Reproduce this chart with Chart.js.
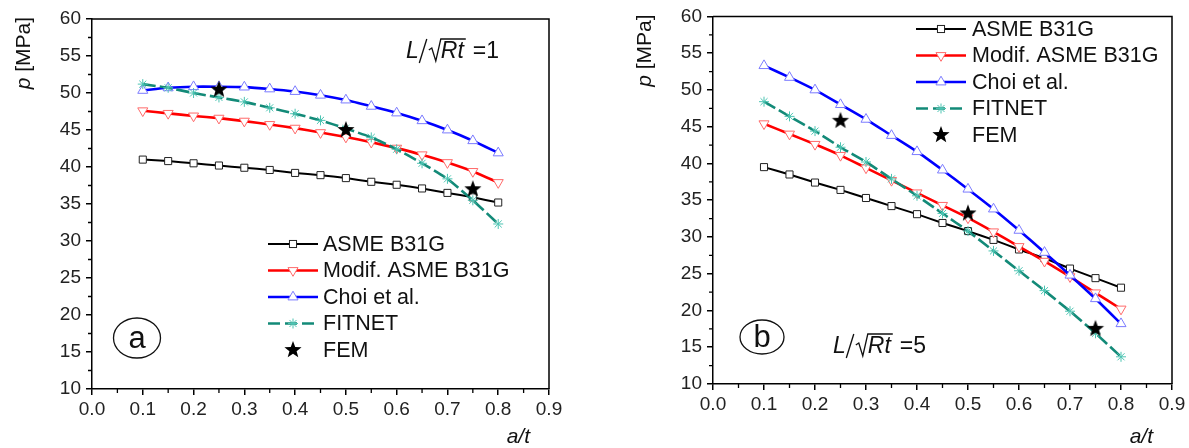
<!DOCTYPE html>
<html><head><meta charset="utf-8">
<script src="https://cdn.jsdelivr.net/npm/chart.js@4.4.1/dist/chart.umd.min.js"></script>
<style>
html,body{margin:0;padding:0;background:#fff;}
#wrap{position:relative;width:1189px;height:448px;overflow:hidden;}
canvas{position:absolute;top:0;}
</style></head><body>
<div id="wrap">
<canvas id="ca" width="595" height="448" style="left:0"></canvas>
<canvas id="cb" width="594" height="448" style="left:595px"></canvas>
</div>
<script>
// ---------- data ----------
const alt = [0.10,0.15,0.20,0.25,0.30,0.35,0.40,0.45,0.50,0.55,0.60,0.65,0.70,0.75,0.80];
const femAlt = [0.25,0.50,0.75];
const xTickValues = [0,0.1,0.2,0.3,0.4,0.5,0.6,0.7,0.8,0.9];
const yTickValues = [10,15,20,25,30,35,40,45,50,55,60];
const seriesNames = ['ASME B31G','Modif. ASME B31G','Choi et al.','FITNET','FEM'];

// panel (a)  L/sqrt(Rt) = 1
const asmeA   = [41.0,40.8,40.5,40.2,39.9,39.6,39.2,38.9,38.5,38.0,37.6,37.1,36.5,35.9,35.2];
const modifA  = [47.6,47.25,46.9,46.6,46.2,45.75,45.25,44.65,44.05,43.35,42.55,41.65,40.6,39.4,37.9];
const choiA   = [50.35,50.7,50.85,50.85,50.8,50.55,50.2,49.7,49.05,48.2,47.3,46.25,45.0,43.55,41.9];
const fitnetA = [51.2,50.7,50.0,49.4,48.8,48.0,47.2,46.3,45.2,44.0,42.4,40.5,38.4,35.5,32.3];
const femA    = [50.45,45.0,37.0];

// panel (b)  L/sqrt(Rt) = 5
const asmeB   = [39.5,38.5,37.4,36.4,35.3,34.2,33.1,31.9,30.8,29.6,28.3,27.1,25.7,24.4,23.1];
const modifB  = [45.4,44.0,42.6,41.1,39.4,37.7,36.0,34.3,32.6,30.7,28.7,26.7,24.6,22.4,20.2];
const choiB   = [53.3,51.7,50.0,48.0,46.0,43.8,41.6,39.1,36.5,33.8,30.9,27.9,24.8,21.6,18.2];
const fitnetB = [48.4,46.4,44.4,42.2,40.2,37.9,35.6,33.2,30.8,28.1,25.4,22.7,19.9,16.9,13.7];
const femB    = [45.8,33.2,17.5];

// ---------- helpers ----------
const FONT = '"Liberation Sans", Arial, sans-serif';
function makeStar(r){
  const s = Math.ceil(r*2)+2, c = document.createElement('canvas');
  c.width = s; c.height = s;
  const g = c.getContext('2d');
  g.fillStyle = '#000'; g.beginPath();
  for (let i=0;i<10;i++){
    const rr = (i%2) ? r*0.42 : r, ang = -Math.PI/2 + i*Math.PI/5;
    g.lineTo(s/2+rr*Math.cos(ang), s/2+rr*Math.sin(ang));
  }
  g.closePath(); g.fill();
  return c;
}
const starImg = makeStar(9);
const pts = (xs, ys) => xs.map((x,i)=>({x:x, y:ys[i]}));

function makeDatasets(asme, modif, choi, fitnet, fem){
  return [
    {label:seriesNames[0], data:pts(alt,asme), borderColor:'#000', borderWidth:2,
     pointStyle:'rect', pointRadius:5, pointBackgroundColor:'#fff', pointBorderColor:'#222', pointBorderWidth:1, order:4, tension:0.2},
    {label:seriesNames[1], data:pts(alt,modif), borderColor:'#ff0000', borderWidth:2.6,
     pointStyle:'triangle', rotation:180, pointRadius:5.8, pointBackgroundColor:'#fff', pointBorderColor:'#ff6a6a', pointBorderWidth:1, order:3, tension:0.2},
    {label:seriesNames[2], data:pts(alt,choi), borderColor:'#0000ff', borderWidth:2.6,
     pointStyle:'triangle', pointRadius:5.8, pointBackgroundColor:'#fff', pointBorderColor:'#7b7bff', pointBorderWidth:1, order:2, tension:0.2},
    {label:seriesNames[3], data:pts(alt,fitnet), borderColor:'#138a78', borderWidth:2.6, borderDash:[13,4],
     pointStyle:'star', pointRadius:5, pointBackgroundColor:'#fff', pointBorderColor:'#4cc4b2', pointBorderWidth:1, order:1, tension:0.2},
    {label:seriesNames[4], data:pts(femAlt,fem), showLine:false,
     pointStyle:starImg, pointRadius:9, order:0}
  ];
}

function drawMarker(ctx, ds, x, y){
  ctx.save();
  ctx.lineWidth = ds.pointBorderWidth || 1;
  ctx.strokeStyle = ds.pointBorderColor; ctx.fillStyle = '#fff';
  const st = ds.pointStyle, r = ds.pointRadius;
  if (st === 'rect'){
    const s = Math.SQRT1_2*r;
    ctx.fillRect(x-s,y-s,2*s,2*s); ctx.strokeRect(x-s,y-s,2*s,2*s);
  } else if (st === 'triangle'){
    const rot = (ds.rotation||0)*Math.PI/180;
    ctx.beginPath();
    for (let k=0;k<3;k++){
      const a = rot - Math.PI/2 + k*2*Math.PI/3;
      ctx.lineTo(x + r*Math.cos(a), y + r*Math.sin(a));
    }
    ctx.closePath(); ctx.fill(); ctx.stroke();
  } else if (st === 'star'){
    ctx.beginPath();
    for (let k=0;k<4;k++){
      const a = k*Math.PI/4;
      ctx.moveTo(x - r*Math.cos(a), y - r*Math.sin(a));
      ctx.lineTo(x + r*Math.cos(a), y + r*Math.sin(a));
    }
    ctx.stroke();
  } else {
    ctx.drawImage(st, x - st.width/2, y - st.height/2);
  }
  ctx.restore();
}

function drawRatio(ctx, x, y, val){
  ctx.save();
  ctx.fillStyle = '#111'; ctx.strokeStyle = '#111';
  ctx.textBaseline = 'alphabetic'; ctx.textAlign = 'left';
  ctx.font = 'italic 23px ' + FONT;
  ctx.fillText('L', x, y);
  let cx = x + ctx.measureText('L').width;
  ctx.lineWidth = 1.3;
  ctx.beginPath(); ctx.moveTo(cx+0.5, y+5); ctx.lineTo(cx+8, y-19); ctx.stroke();
  cx += 10;
  const wRt = ctx.measureText('Rt').width;
  ctx.lineWidth = 1.3;
  ctx.beginPath();
  ctx.moveTo(cx, y-8); ctx.lineTo(cx+3, y-10); ctx.lineTo(cx+7, y+3); ctx.lineTo(cx+12, y-19);
  ctx.lineTo(cx+14+wRt, y-19); ctx.stroke();
  ctx.fillText('Rt', cx+12, y);
  cx += 14 + wRt + 7;
  ctx.font = '23px ' + FONT;
  ctx.fillText('=' + val, cx, y);
  ctx.restore();
}

const deco = {
  id:'deco',
  afterDraw(chart, args, o){
    const ctx = chart.ctx, a = chart.chartArea;
    const xs = chart.scales.x, ys = chart.scales.y;
    ctx.save();
    // frame (top/right)
    ctx.strokeStyle = '#000'; ctx.lineWidth = 1.5;
    ctx.beginPath(); ctx.moveTo(a.left, a.top); ctx.lineTo(a.right, a.top); ctx.lineTo(a.right, a.bottom); ctx.stroke();
    // minor ticks
    ctx.lineWidth = 1.3; ctx.beginPath();
    for (let i=0;i<xTickValues.length-1;i++){
      const px = xs.getPixelForValue((xTickValues[i]+xTickValues[i+1])/2);
      ctx.moveTo(px, a.bottom); ctx.lineTo(px, a.bottom+4);
    }
    for (let i=0;i<yTickValues.length-1;i++){
      const py = ys.getPixelForValue((yTickValues[i]+yTickValues[i+1])/2);
      ctx.moveTo(a.left, py); ctx.lineTo(a.left-4, py);
    }
    ctx.stroke();
    // legend
    const dsets = chart.data.datasets;
    ctx.font = '21.5px ' + FONT; ctx.textBaseline = 'middle'; ctx.textAlign = 'left'; ctx.fillStyle = '#111';
    dsets.forEach((ds, i) => {
      const y = o.legY + i*o.legStep;
      if (ds.showLine !== false){
        ctx.save();
        ctx.strokeStyle = ds.borderColor; ctx.lineWidth = ds.borderWidth;
        if (ds.borderDash) ctx.setLineDash([12,5]);
        ctx.beginPath(); ctx.moveTo(o.legX0, y); ctx.lineTo(o.legX1, y); ctx.stroke();
        ctx.restore();
      }
      drawMarker(ctx, ds, (o.legX0+o.legX1)/2, y);
      ctx.fillText(ds.label, o.legText, y+1);
    });
    // L/sqrt(Rt)
    drawRatio(ctx, o.ratioX, o.ratioY, o.ratioVal);
    // panel letter
    ctx.lineWidth = 1.3; ctx.strokeStyle = '#111';
    ctx.beginPath(); ctx.ellipse(o.cx, o.cy, o.rx, o.ry, 0, 0, Math.PI*2); ctx.stroke();
    ctx.font = '31px ' + FONT; ctx.textAlign = 'center'; ctx.textBaseline = 'middle';
    ctx.fillText(o.letter, o.cx, o.cy+1);
    // x title
    ctx.font = 'italic 21px ' + FONT; ctx.textAlign = 'right'; ctx.textBaseline = 'middle';
    ctx.fillText('a/t', a.right - 19, 437);
    // y title
    ctx.save();
    ctx.font = '21px ' + FONT;
    const wRest = ctx.measureText(' [MPa]').width;
    ctx.font = 'italic 21px ' + FONT;
    const wp = ctx.measureText('p').width;
    ctx.translate(a.left - 68, a.top - 2 + wp + wRest);
    ctx.rotate(-Math.PI/2);
    ctx.textAlign = 'left'; ctx.textBaseline = 'middle';
    ctx.fillText('p', 0, 0);
    ctx.font = '21px ' + FONT;
    ctx.fillText(' [MPa]', wp, 0);
    ctx.restore();
    ctx.restore();
  }
};

function makeChart(id, datasets, leftW, bottomH, pad, decoOpts){
  return new Chart(document.getElementById(id), {
    type:'line',
    data:{datasets},
    plugins:[deco],
    options:{
      responsive:false, animation:false, devicePixelRatio:1,
      layout:{padding:pad},
      plugins:{legend:{display:false}, tooltip:{enabled:false}, deco:decoOpts},
      scales:{
        x:{type:'linear', min:0, max:0.9,
           afterBuildTicks: s => { s.ticks = xTickValues.map(v=>({value:v})); },
           afterFit: s => { s.height = bottomH; },
           ticks:{callback:v=>Number(v).toFixed(1), font:{size:19, family:FONT}, color:'#222', padding:3, maxRotation:0, autoSkip:false},
           grid:{drawOnChartArea:false, drawTicks:true, tickLength:6, color:'#000', lineWidth:1.5},
           border:{display:true, color:'#000', width:1.5}},
        y:{type:'linear', min:10, max:60,
           afterBuildTicks: s => { s.ticks = yTickValues.map(v=>({value:v})); },
           afterFit: s => { s.width = leftW; },
           ticks:{font:{size:19, family:FONT}, color:'#222', padding:5},
           grid:{drawOnChartArea:false, drawTicks:true, tickLength:6, color:'#000', lineWidth:1.5},
           border:{display:true, color:'#000', width:1.5}}
      }
    }
  });
}

makeChart('ca', makeDatasets(asmeA, modifA, choiA, fitnetA, femA), 92, 59,
  {top:19, right:46, left:0, bottom:0},
  {legY:244, legStep:26.5, legX0:268, legX1:318, legText:323,
   ratioX:406, ratioY:58, ratioVal:'1', cx:137, cy:338, rx:23.5, ry:20, letter:'a'});

makeChart('cb', makeDatasets(asmeB, modifB, choiB, fitnetB, femB), 118, 64,
  {top:16, right:17, left:0, bottom:0},
  {legY:29, legStep:26.5, legX0:321, legX1:371, legText:377,
   ratioX:238, ratioY:353, ratioVal:'5', cx:167, cy:337, rx:22, ry:17, letter:'b'});
</script>
</body></html>
